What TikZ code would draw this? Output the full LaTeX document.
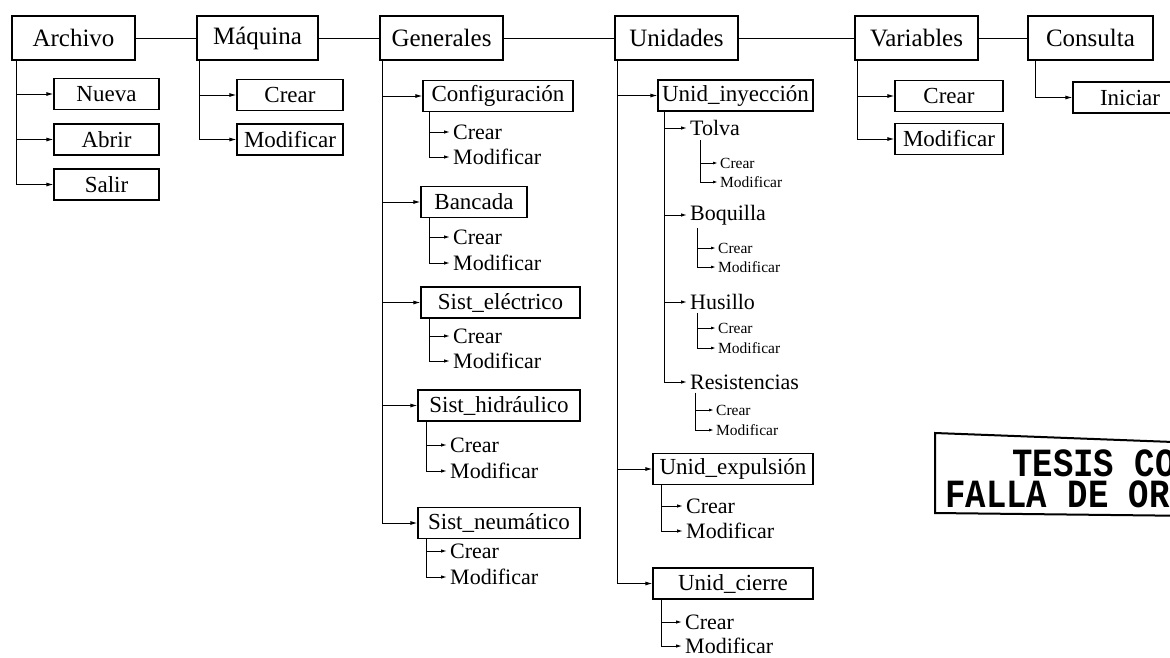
\documentclass[tikz,border=0pt]{standalone}
\usepackage{fontspec}
\usepackage{graphicx}
\setmainfont{Liberation Serif}
\newfontfamily\stampfont{Liberation Mono}
\usetikzlibrary{arrows.meta}

\newcommand\fTop{\fontsize{25}{28}\selectfont}
\newcommand\fSec{\fontsize{23}{26}\selectfont}
\newcommand\fItem{\fontsize{22}{25}\selectfont}
\newcommand\fSmall{\fontsize{15.5}{18}\selectfont}
\newcommand\fStamp{\stampfont\bfseries\fontsize{40}{40}\selectfont}

\tikzset{
  link/.style={line width=1pt},
  arr/.style={link, -{Latex[length=7pt,width=4pt]}},
  iarr/.style={link, -{Latex[length=6pt,width=3.5pt]}, shorten >=3pt},
  sarr/.style={link, -{Latex[length=5pt,width=3pt]}, shorten >=2pt},
  topbox/.style={draw, line width=1.1pt, inner sep=0pt, minimum height=44pt, font=\fTop},
  subbox/.style={draw, line width=1.1pt, inner sep=0pt, minimum height=31pt, font=\fSec},
  item/.style={anchor=west, inner sep=0pt, font=\fItem},
  sitem/.style={anchor=west, inner sep=0pt, font=\fSmall},
  stampline/.style={anchor=base west, inner sep=0pt, font=\fStamp},
}

\begin{document}
\begin{tikzpicture}[x=1pt,y=-1pt]
\useasboundingbox (0,0) rectangle (1170,657);

% ---- main menu bar ----
\node[topbox, minimum width=123pt] (arch) at (73.5,38)  {Archivo};
\node[topbox, minimum width=121pt] (maq)  at (257.5,38) {Máquina};
\node[topbox, minimum width=123pt] (gen)  at (441.5,38) {Generales};
\node[topbox, minimum width=123pt] (uni)  at (676.5,38) {Unidades};
\node[topbox, minimum width=123pt] (var)  at (916.5,38) {Variables};
\node[topbox, minimum width=125pt] (con)  at (1090.5,38) {Consulta};
\draw[link] (arch) -- (maq);
\draw[link] (maq) -- (gen);
\draw[link] (gen) -- (uni);
\draw[link] (uni) -- (var);
\draw[link] (var) -- (con);

% ---- Archivo ----
\node[subbox, minimum width=105pt] (nueva) at (106.5,94)    {Nueva};
\node[subbox, minimum width=105pt] (abrir) at (106.5,139.5) {Abrir};
\node[subbox, minimum width=105pt] (salir) at (106.5,184.5) {Salir};
\coordinate (archv) at ([xshift=5pt]arch.south west);
\draw[arr] (archv) |- (salir.west);
\draw[arr] (archv |- nueva.west) -- (nueva.west);
\draw[arr] (archv |- abrir.west) -- (abrir.west);

% ---- Máquina ----
\node[subbox, minimum width=106pt] (mcrear) at (290,95)    {Crear};
\node[subbox, minimum width=106pt] (mmod)   at (290,139.5) {Modificar};
\coordinate (maqv) at ([xshift=3pt]maq.south west);
\draw[arr] (maqv) |- (mmod.west);
\draw[arr] (maqv |- mcrear.west) -- (mcrear.west);

% ---- Generales ----
\node[subbox, minimum width=150pt] (conf)  at (498,96)    {Configuración};
\node[subbox, minimum width=106pt] (banc)  at (474,202)   {Bancada};
\node[subbox, minimum width=159pt] (selec) at (500.5,302.5) {Sist\_eléctrico};
\node[subbox, minimum width=162pt] (shid)  at (499,405.5) {Sist\_hidráulico};
\node[subbox, minimum width=162pt] (sneu)  at (499,523)   {Sist\_neumático};
\coordinate (genv) at ([xshift=3pt]gen.south west);
\draw[arr] (genv) |- (sneu.west);
\draw[arr] (genv |- conf.west)  -- (conf.west);
\draw[arr] (genv |- banc.west)  -- (banc.west);
\draw[arr] (genv |- selec.west) -- (selec.west);
\draw[arr] (genv |- shid.west)  -- (shid.west);

\node[item] (confc) at (453,132) {Crear};
\node[item] (confm) at (453,157) {Modificar};
\coordinate (confv) at ([xshift=7pt]conf.south west);
\draw[iarr] (confv) |- (confm.west);
\draw[iarr] (confv |- confc.west) -- (confc.west);

\node[item] (bancc) at (453,237) {Crear};
\node[item] (bancm) at (453,263) {Modificar};
\coordinate (bancv) at ([xshift=9pt]banc.south west);
\draw[iarr] (bancv) |- (bancm.west);
\draw[iarr] (bancv |- bancc.west) -- (bancc.west);

\node[item] (selecc) at (453,336) {Crear};
\node[item] (selecm) at (453,361) {Modificar};
\coordinate (selecv) at ([xshift=9pt]selec.south west);
\draw[iarr] (selecv) |- (selecm.west);
\draw[iarr] (selecv |- selecc.west) -- (selecc.west);

\node[item] (shidc) at (450,445) {Crear};
\node[item] (shidm) at (450,471) {Modificar};
\coordinate (shidv) at ([xshift=9pt]shid.south west);
\draw[iarr] (shidv) |- (shidm.west);
\draw[iarr] (shidv |- shidc.west) -- (shidc.west);

\node[item] (sneuc) at (450,551) {Crear};
\node[item] (sneum) at (450,577) {Modificar};
\coordinate (sneuv) at ([xshift=9pt]sneu.south west);
\draw[iarr] (sneuv) |- (sneum.west);
\draw[iarr] (sneuv |- sneuc.west) -- (sneuc.west);

% ---- Unidades ----
\node[subbox, minimum width=155pt] (uiny) at (735.5,95.5) {Unid\_inyección};
\node[subbox, minimum width=160pt] (uexp) at (733,469)    {Unid\_expulsión};
\node[subbox, minimum width=160pt] (ucie) at (733,583.5)  {Unid\_cierre};
\coordinate (univ) at ([xshift=3pt]uni.south west);
\draw[arr] (univ) |- (ucie.west);
\draw[arr] (univ |- uiny.west) -- (uiny.west);
\draw[arr] (univ |- uexp.west) -- (uexp.west);

% parts of the injection unit
\node[item] (tolva) at (690,128) {Tolva};
\node[item] (boq)   at (690,215) {Boquilla};
\node[item] (hus)   at (690,302) {Husillo};
\node[item] (res)   at (690,382) {Resistencias};
\coordinate (uinyv) at ([xshift=7pt]uiny.south west);
\draw[iarr] (uinyv) |- (res.west);
\draw[iarr] (uinyv |- tolva.west) -- (tolva.west);
\draw[iarr] (uinyv |- boq.west)   -- (boq.west);
\draw[iarr] (uinyv |- hus.west)   -- (hus.west);

\node[sitem] (tolvac) at (720,163) {Crear};
\node[sitem] (tolvam) at (720,182) {Modificar};
\coordinate (tolvav) at ([xshift=10pt,yshift=-4pt]tolva.south west);
\draw[sarr] (tolvav) |- (tolvam.west);
\draw[sarr] (tolvav |- tolvac.west) -- (tolvac.west);

\node[sitem] (boqc) at (718,248) {Crear};
\node[sitem] (boqm) at (718,267) {Modificar};
\coordinate (boqv) at ([xshift=7pt,yshift=-3pt]boq.south west);
\draw[sarr] (boqv) |- (boqm.west);
\draw[sarr] (boqv |- boqc.west) -- (boqc.west);

\node[sitem] (husc) at (718,328) {Crear};
\node[sitem] (husm) at (718,348) {Modificar};
\coordinate (husv) at ([xshift=7pt,yshift=-3pt]hus.south west);
\draw[sarr] (husv) |- (husm.west);
\draw[sarr] (husv |- husc.west) -- (husc.west);

\node[sitem] (resc) at (716,410) {Crear};
\node[sitem] (resm) at (716,430) {Modificar};
\coordinate (resv) at ([xshift=5pt,yshift=-3pt]res.south west);
\draw[sarr] (resv) |- (resm.west);
\draw[sarr] (resv |- resc.west) -- (resc.west);

\node[item] (uexpc) at (686,506) {Crear};
\node[item] (uexpm) at (686,531) {Modificar};
\coordinate (uexpv) at ([xshift=9pt]uexp.south west);
\draw[iarr] (uexpv) |- (uexpm.west);
\draw[iarr] (uexpv |- uexpc.west) -- (uexpc.west);

\node[item] (uciec) at (685,622) {Crear};
\node[item] (uciem) at (685,646) {Modificar};
\coordinate (uciev) at ([xshift=9pt]ucie.south west);
\draw[iarr] (uciev) |- (uciem.west);
\draw[iarr] (uciev |- uciec.west) -- (uciec.west);

% ---- Variables ----
\node[subbox, minimum width=108pt] (vcrear) at (949,96)  {Crear};
\node[subbox, minimum width=108pt] (vmod)   at (949,139) {Modificar};
\coordinate (varv) at ([xshift=3pt]var.south west);
\draw[arr] (varv) |- (vmod.west);
\draw[arr] (varv |- vcrear.west) -- (vcrear.west);

% ---- Consulta and the stamp, cut at the page edge ----
\begin{scope}
  \clip (0,0) rectangle (1170,657);
  \node[subbox, minimum width=114pt] (inic) at (1130,97.5) {Iniciar};
  \coordinate (conv) at ([xshift=8pt]con.south west);
  \draw[arr] (conv) |- (inic.west);

  \draw[line width=2pt] (1200,443) -- (935,433) -- (935,513) -- (1200,516);
  \node[stampline] (stampa) at (1012,476) {\scalebox{0.85}[1]{TESIS CON}};
  \node[stampline] (stampb) at (945,507)  {\scalebox{0.85}[1]{FALLA DE ORIGEN}};
\end{scope}
\end{tikzpicture}
\end{document}
